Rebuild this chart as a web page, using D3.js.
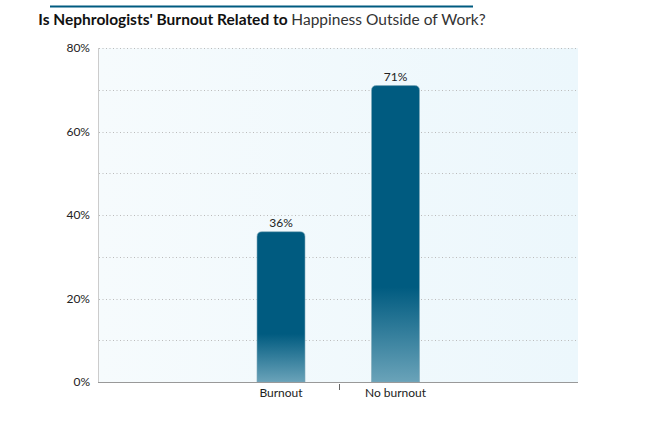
<!DOCTYPE html>
<html><head><meta charset="utf-8">
<script src="https://cdn.jsdelivr.net/npm/d3@7"></script>
<style>body{margin:0;background:#fff}svg{font-family:Lato,"Open Sans",sans-serif}</style>
</head><body><svg width="645" height="439"></svg>
<script>
const categories = ['Burnout', 'No burnout'];
const values = [36, 71];
const yTicks = [0, 20, 40, 60, 80];
const gridLines = [10, 20, 30, 40, 50, 60, 70, 80];

const svg = d3.select('svg');
const defs = svg.append('defs');

const bg = defs.append('linearGradient').attr('id', 'bg').attr('x1', 0).attr('x2', 1).attr('y1', 0).attr('y2', 0);
bg.append('stop').attr('offset', 0).attr('stop-color', '#f6fbfd');
bg.append('stop').attr('offset', 1).attr('stop-color', '#ecf7fc');

const bar = defs.append('linearGradient').attr('id', 'bar').attr('x1', 0).attr('x2', 0).attr('y1', 0).attr('y2', 1);
bar.append('stop').attr('offset', 0).attr('stop-color', '#005b80');
bar.append('stop').attr('offset', 0.68).attr('stop-color', '#005b80');
bar.append('stop').attr('offset', 1).attr('stop-color', '#6aa3b9');

// title
svg.append('line').attr('x1', 50).attr('x2', 473).attr('y1', 6.5).attr('y2', 6.5)
  .attr('stroke', '#005b80').attr('stroke-width', 2);
const t = svg.append('text').attr('x', 262).attr('y', 25).attr('text-anchor', 'middle')
  .attr('font-size', 15.5).attr('fill', '#111');
t.append('tspan').attr('font-weight', 'bold').text("Is Nephrologists' Burnout Related to ");
t.append('tspan').attr('fill', '#333').text('Happiness Outside of Work?');

const x = d3.scalePoint().domain(categories).range([281, 395.5]);
const barW = 48;
const y = d3.scaleLinear().domain([0, 80]).range([382, 48]);

svg.append('rect').attr('x', 98).attr('y', 48).attr('width', 480).attr('height', 334).attr('fill', 'url(#bg)');

svg.selectAll('.grid').data(gridLines).join('line')
  .attr('x1', 99).attr('x2', 578).attr('y1', d => Math.round(y(d)) + 0.5).attr('y2', d => Math.round(y(d)) + 0.5)
  .attr('stroke', '#bbb').attr('stroke-dasharray', '1,2.5');

svg.append('line').attr('x1', 98.5).attr('x2', 98.5).attr('y1', 48).attr('y2', 382).attr('stroke', '#ccc');

svg.selectAll('.ylab').data(yTicks).join('text')
  .attr('x', 90).attr('y', d => y(d) + 4).attr('text-anchor', 'end')
  .attr('font-size', 12).attr('fill', '#222').text(d => d + '%');

const r = 5;
svg.selectAll('.bar').data(values).join('path')
  .attr('fill', 'url(#bar)').attr('stroke', '#7fa9b9').attr('stroke-width', 0.6)
  .attr('d', (d, i) => {
    const x0 = x(categories[i]) - barW / 2, w = barW, y0 = y(d), y1 = y(0);
    return `M${x0},${y1}V${y0 + r}Q${x0},${y0} ${x0 + r},${y0}H${x0 + w - r}Q${x0 + w},${y0} ${x0 + w},${y0 + r}V${y1}Z`;
  });

svg.selectAll('.vlab').data(values).join('text')
  .attr('x', (d, i) => x(categories[i])).attr('y', d => y(d) - 5)
  .attr('text-anchor', 'middle').attr('font-size', 12).attr('fill', '#222').text(d => d + '%');

svg.append('line').attr('x1', 98).attr('x2', 578).attr('y1', 382.5).attr('y2', 382.5).attr('stroke', '#999');
svg.append('line').attr('x1', 339.5).attr('x2', 339.5).attr('y1', 384).attr('y2', 390).attr('stroke', '#666');

svg.selectAll('.xlab').data(categories).join('text')
  .attr('x', d => x(d)).attr('y', 397).attr('text-anchor', 'middle')
  .attr('font-size', 12).attr('fill', '#222').text(d => d);
</script></body></html>
